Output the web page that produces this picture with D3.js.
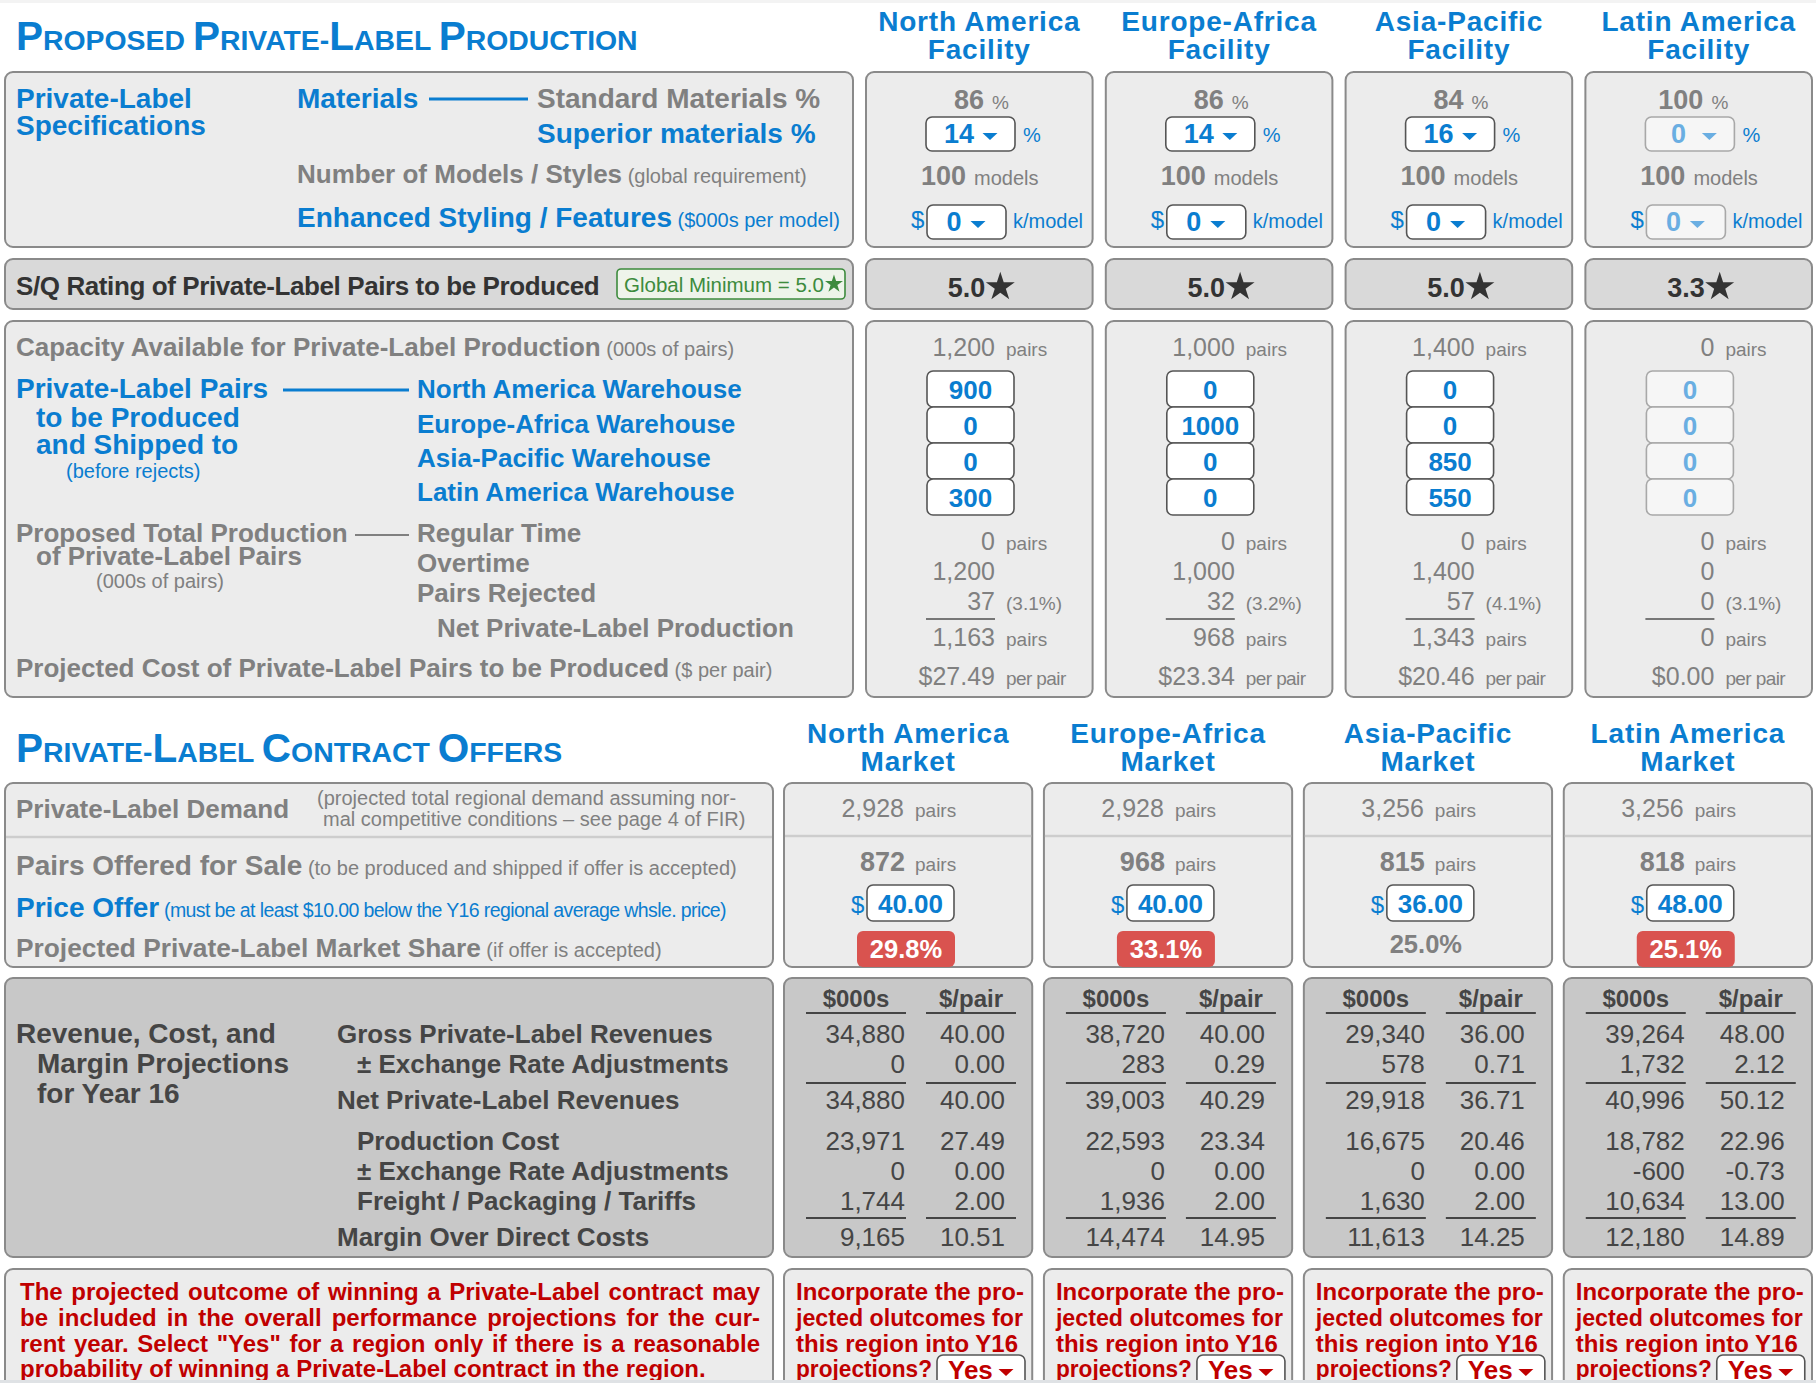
<!DOCTYPE html>
<html>
<head>
<meta charset="utf-8">
<script src="https://cdn.jsdelivr.net/npm/d3@7"></script>
<style>
  body { margin: 0; background: #fff; }
  svg { display: block; font-family: "Liberation Sans", Arial, Helvetica, sans-serif; white-space: pre; }
</style>
</head>
<body>
<div id="chart"></div>
<script>
// ---- data ----
const facilities = ["North America", "Europe-Africa", "Asia-Pacific", "Latin America"];
const facilityEnabled = [true, true, true, false];
const standardPct = [86, 86, 84, 100];
const superiorPct = [14, 14, 16, 0];
const modelCount = [100, 100, 100, 100];
const stylingK = [0, 0, 0, 0];
const sqRating = [5.0, 5.0, 5.0, 3.3];
const globalMinimum = 5.0;

const warehouses = ["North America Warehouse", "Europe-Africa Warehouse", "Asia-Pacific Warehouse", "Latin America Warehouse"];
const capacity = [1200, 1000, 1400, 0];
const toNorthAmerica = [900, 0, 0, 0];
const toEuropeAfrica = [0, 1000, 0, 0];
const toAsiaPacific = [0, 0, 850, 0];
const toLatinAmerica = [300, 0, 550, 0];
const regularTime = [0, 0, 0, 0];
const overtime = [1200, 1000, 1400, 0];
const pairsRejected = [37, 32, 57, 0];
const rejectRate = [3.1, 3.2, 4.1, 3.1];
const netProduction = [1163, 968, 1343, 0];
const costPerPair = [27.49, 23.34, 20.46, 0.0];

const markets = ["North America", "Europe-Africa", "Asia-Pacific", "Latin America"];
const demand = [2928, 2928, 3256, 3256];
const pairsOffered = [872, 968, 815, 818];
const priceOffer = [40.0, 40.0, 36.0, 48.0];
const marketShare = [29.8, 33.1, 25.0, 25.1];
const shareFlagged = [true, true, false, true];

const grossRevK = [34880, 38720, 29340, 39264];
const grossRevPair = [40.0, 40.0, 36.0, 48.0];
const fxRevK = [0, 283, 578, 1732];
const fxRevPair = [0.0, 0.29, 0.71, 2.12];
const netRevK = [34880, 39003, 29918, 40996];
const netRevPair = [40.0, 40.29, 36.71, 50.12];
const prodCostK = [23971, 22593, 16675, 18782];
const prodCostPair = [27.49, 23.34, 20.46, 22.96];
const fxCostK = [0, 0, 0, -600];
const fxCostPair = [0.0, 0.0, 0.0, -0.73];
const freightK = [1744, 1936, 1630, 10634];
const freightPair = [2.0, 2.0, 2.0, 13.0];
const marginK = [9165, 14474, 11613, 12180];
const marginPair = [10.51, 14.95, 14.25, 14.89];
const incorporate = ["Yes", "Yes", "Yes", "Yes"];

// ---- styles ----
const BLUE = "#0a7dd0", LIGHTBLUE = "#6aaee2", GRAY = "#808080", DARK = "#454545",
  RED = "#c00000", BADGE = "#d9534f", GREEN = "#3d8b3d", BORDER = "#8a8a8a";

const loc = d3.formatLocale({ decimal: ".", thousands: ",", grouping: [3], currency: ["$", ""], minus: "-" });
const fInt = loc.format(",");
const f2 = loc.format(".2f");
const f1 = loc.format(".1f");

const W = 1816, H = 1392;
const svg = d3.select("#chart").append("svg").attr("width", W).attr("height", H);

const xFac = d3.scaleBand().domain(facilities).range([866, 1812]).paddingInner(0.055);
const xMkt = d3.scaleBand().domain(markets).range([784, 1812]).paddingInner(0.045);

function label(g, x, y, parts, anchor) {
  const t = g.append("text").attr("x", x).attr("y", y).attr("text-anchor", anchor || "start");
  parts.forEach(([s, size, fill, weight]) => {
    t.append("tspan").text(s).attr("font-size", size).attr("fill", fill).attr("font-weight", weight || "bold");
  });
  return t;
}

// squeeze a text into maxW if it runs wider
function fit(t, maxW) {
  const w = t.node().getComputedTextLength();
  if (w > maxW) t.attr("textLength", maxW).attr("lengthAdjust", "spacingAndGlyphs");
  return t;
}

function smallCaps(g, x, y, s) {
  const t = g.append("text").attr("x", x).attr("y", y).attr("fill", BLUE).attr("font-weight", "bold");
  const runs = [];
  [...s].forEach((ch, i) => {
    const big = i === 0 || s[i - 1] === " " || s[i - 1] === "-";
    const last = runs[runs.length - 1];
    if (last && last.big === big) last.text += ch.toUpperCase();
    else runs.push({ text: ch.toUpperCase(), big });
  });
  runs.forEach((r) => t.append("tspan").attr("font-size", r.big ? 40.5 : 28.4).text(r.text));
}

function box(g, x, y, w, h, fill) {
  g.append("rect").attr("x", x).attr("y", y).attr("width", w).attr("height", h)
    .attr("rx", 8).attr("fill", fill || "#ececec").attr("stroke", BORDER).attr("stroke-width", 2);
}

function boxRow(scale, leftW, y, h, fill) {
  box(svg, 5, y, leftW, h, fill);
  scale.domain().forEach((d) => box(svg, scale(d), y, scale.bandwidth(), h, fill));
}

function arrow(g, cx, cy, fill) {
  const p = d3.path();
  p.moveTo(cx - 7.5, cy - 3);
  p.lineTo(cx + 7.5, cy - 3);
  p.lineTo(cx, cy + 4);
  p.closePath();
  g.append("path").attr("d", p.toString()).attr("fill", fill);
}

function field(g, x, y, w, h, on) {
  g.append("rect").attr("x", x).attr("y", y).attr("width", w).attr("height", h).attr("rx", 6)
    .attr("fill", on ? "#fff" : "#f6f6f6").attr("stroke", on ? "#555" : "#a8a8a8").attr("stroke-width", 1.6);
}

function hline(g, x0, x1, y, color, sw) {
  g.append("line").attr("x1", x0).attr("x2", x1).attr("y1", y).attr("y2", y)
    .attr("stroke", color).attr("stroke-width", sw || 2);
}

function star(g, cx, cy, size, fill) {
  g.append("path").attr("d", d3.symbol(d3.symbolStar, size)()).attr("transform", `translate(${cx},${cy})`).attr("fill", fill);
}

function header(g, cx, lines) {
  label(g, cx, 31 + lines.y, [[lines.a, 28, BLUE]], "middle").attr("letter-spacing", 0.8);
  label(g, cx, 59 + lines.y, [[lines.b, 28, BLUE]], "middle").attr("letter-spacing", 0.8);
}

// faint band at the top edge of the screenshot
svg.append("rect").attr("x", 0).attr("y", 0).attr("width", W).attr("height", 3).attr("fill", "#f3f3f3");

// ---- section 1: proposed production ----
smallCaps(svg, 16, 50, "Proposed Private-Label Production");
facilities.forEach((f) => header(svg, xFac(f) + xFac.bandwidth() / 2, { a: f, b: "Facility", y: 0 }));

boxRow(xFac, 848, 72, 175);
boxRow(xFac, 848, 259, 50, "#d9d9d9");
boxRow(xFac, 848, 321, 376);

// specifications labels
label(svg, 16, 108, [["Private-Label", 28, BLUE]]);
label(svg, 16, 135, [["Specifications", 28, BLUE]]);
label(svg, 297, 108, [["Materials", 28, BLUE]]);
hline(svg, 429, 528, 99, BLUE, 3);
label(svg, 537, 108, [["Standard Materials %", 28, GRAY]]);
label(svg, 537, 143, [["Superior materials %", 28, BLUE]]);
label(svg, 297, 183, [["Number of Models / Styles", 26, GRAY], [" (global requirement)", 20, GRAY, "normal"]]);
label(svg, 297, 227, [["Enhanced Styling / Features", 28, BLUE], [" ($000s per model)", 20, BLUE, "normal"]]);

// S/Q row
label(svg, 16, 295, [["S/Q Rating of Private-Label Pairs to be Produced", 26, "#333"]]).attr("letter-spacing", -0.4);
svg.append("rect").attr("x", 617).attr("y", 269).attr("width", 228).attr("height", 30).attr("rx", 4)
  .attr("fill", "#eef4ea").attr("stroke", GREEN).attr("stroke-width", 1.6);
const gm = label(svg, 624, 292, [["Global Minimum = " + f1(globalMinimum), 20.5, GREEN, "normal"]]);
star(svg, 624 + gm.node().getComputedTextLength() + 10, 284, 100, GREEN);

// capacity labels
label(svg, 16, 356, [["Capacity Available for Private-Label Production", 26, GRAY], [" (000s of pairs)", 20, GRAY, "normal"]]);
label(svg, 16, 398, [["Private-Label Pairs", 28, BLUE]]);
hline(svg, 283, 409, 390, BLUE, 3);
label(svg, 36, 427, [["to be Produced", 28, BLUE]]);
label(svg, 36, 454, [["and Shipped to", 28, BLUE]]);
label(svg, 66, 478, [["(before rejects)", 20, BLUE, "normal"]]);
const whY = [398, 433, 467, 501];
warehouses.forEach((w, i) => label(svg, 417, whY[i], [[w, 26, BLUE]]));
label(svg, 16, 542, [["Proposed Total Production", 26, GRAY]]);
hline(svg, 355, 409, 535, GRAY, 2);
label(svg, 36, 565, [["of Private-Label Pairs", 26, GRAY]]);
label(svg, 96, 588, [["(000s of pairs)", 20, GRAY, "normal"]]);
label(svg, 417, 542, [["Regular Time", 26, GRAY]]);
label(svg, 417, 572, [["Overtime", 26, GRAY]]);
label(svg, 417, 602, [["Pairs Rejected", 26, GRAY]]);
label(svg, 437, 637, [["Net Private-Label Production", 26, GRAY]]);
label(svg, 16, 677, [["Projected Cost of Private-Label Pairs to be Produced", 26, GRAY], [" ($ per pair)", 20, GRAY, "normal"]]);

// facility columns
const shipments = [toNorthAmerica, toEuropeAfrica, toAsiaPacific, toLatinAmerica];
facilities.forEach((f, i) => {
  const x0 = xFac(f);
  const cx = x0 + xFac.bandwidth() / 2;
  const on = facilityEnabled[i];
  const valC = on ? BLUE : LIGHTBLUE;
  const g = svg.append("g");

  label(g, x0 + 118, 109, [[String(standardPct[i]), 27, GRAY]], "end");
  label(g, x0 + 126, 109, [["%", 19, GRAY, "normal"]]);
  field(g, x0 + 60, 117, 89, 34, on);
  label(g, x0 + 93, 143, [[String(superiorPct[i]), 27, valC]], "middle");
  arrow(g, x0 + 124, 136, valC);
  label(g, x0 + 157, 142, [["%", 20, BLUE, "normal"]]);

  label(g, x0 + 100, 185, [[String(modelCount[i]), 27, GRAY]], "end");
  label(g, x0 + 108, 185, [["models", 20, GRAY, "normal"]]);

  label(g, x0 + 45, 228, [["$", 24, BLUE, "normal"]]);
  field(g, x0 + 61, 205, 79, 34, on);
  label(g, x0 + 88, 231, [[String(stylingK[i]), 27, valC]], "middle");
  arrow(g, x0 + 112, 224, valC);
  label(g, x0 + 147, 228, [["k/model", 20, BLUE, "normal"]]);

  // S/Q rating
  label(g, cx + 6, 297, [[f1(sqRating[i]), 27, "#333"]], "end");
  star(g, cx + 21, 287, 260, "#333");

  // capacity
  label(g, x0 + 129, 356, [[fInt(capacity[i]), 25, GRAY, "normal"]], "end");
  label(g, x0 + 140, 356, [["pairs", 19, GRAY, "normal"]]);
  shipments.forEach((arr, j) => {
    const y = 371 + j * 36;
    field(g, x0 + 61, y, 87, 36, on);
    label(g, x0 + 104.5, y + 28, [[String(arr[i]), 26, valC]], "middle");
  });

  label(g, x0 + 129, 550, [[fInt(regularTime[i]), 25, GRAY, "normal"]], "end");
  label(g, x0 + 140, 550, [["pairs", 19, GRAY, "normal"]]);
  label(g, x0 + 129, 580, [[fInt(overtime[i]), 25, GRAY, "normal"]], "end");
  label(g, x0 + 129, 610, [[fInt(pairsRejected[i]), 25, GRAY, "normal"]], "end");
  label(g, x0 + 140, 610, [["(" + f1(rejectRate[i]) + "%)", 19, GRAY, "normal"]]);
  hline(g, x0 + 60, x0 + 129, 619, "#777", 2);
  label(g, x0 + 129, 646, [[fInt(netProduction[i]), 25, GRAY, "normal"]], "end");
  label(g, x0 + 140, 646, [["pairs", 19, GRAY, "normal"]]);
  label(g, x0 + 129, 685, [["$" + f2(costPerPair[i]), 25, GRAY, "normal"]], "end");
  label(g, x0 + 140, 685, [["per pair", 19, GRAY, "normal"]]).attr("letter-spacing", -0.6);
});

// ---- section 2: contract offers ----
smallCaps(svg, 16, 762, "Private-Label Contract Offers");
markets.forEach((m) => header(svg, xMkt(m) + xMkt.bandwidth() / 2, { a: m, b: "Market", y: 712 }));

boxRow(xMkt, 768, 783, 184);
hline(svg, 6, 772, 837, "#cdcdcd", 2.5);
label(svg, 16, 818, [["Private-Label Demand", 26, GRAY]]);
label(svg, 317, 805, [["(projected total regional demand assuming nor-", 20, GRAY, "normal"]]);
label(svg, 323, 826, [["mal competitive conditions \u2013 see page 4 of FIR)", 20, GRAY, "normal"]]);
label(svg, 16, 875, [["Pairs Offered for Sale", 28, GRAY], [" (to be produced and shipped if offer is accepted)", 20, GRAY, "normal"]]);
label(svg, 16, 917, [["Price Offer", 28, BLUE], [" (must be at least $10.00 below the Y16 regional average whsle. price)", 19.5, BLUE, "normal"]])
  .select("tspan:last-child").attr("letter-spacing", -0.6);
label(svg, 16, 957, [["Projected Private-Label Market Share", 26.3, GRAY], [" (if offer is accepted)", 20, GRAY, "normal"]]);

markets.forEach((m, i) => {
  const x0 = xMkt(m);
  const bw = xMkt.bandwidth();
  const g = svg.append("g");
  hline(g, x0 + 1, x0 + bw - 1, 836, "#cdcdcd", 2.5);
  label(g, x0 + 120, 817, [[fInt(demand[i]), 25, GRAY, "normal"]], "end");
  label(g, x0 + 131, 817, [["pairs", 19, GRAY, "normal"]]);
  label(g, x0 + 121, 871, [[fInt(pairsOffered[i]), 27, GRAY]], "end");
  label(g, x0 + 131, 871, [["pairs", 19, GRAY, "normal"]]);
  label(g, x0 + 67, 913, [["$", 24, BLUE, "normal"]]);
  field(g, x0 + 83, 885, 87, 36, true);
  label(g, x0 + 126.5, 913, [[f2(priceOffer[i]), 26, BLUE]], "middle");
  if (shareFlagged[i]) {
    g.append("rect").attr("x", x0 + 73).attr("y", 931).attr("width", 98).attr("height", 36).attr("rx", 6).attr("fill", BADGE);
    label(g, x0 + 122, 958, [[f1(marketShare[i]) + "%", 25.5, "#fff"]], "middle");
  } else {
    label(g, x0 + 122, 953, [[f1(marketShare[i]) + "%", 25.5, GRAY]], "middle");
  }
});

// ---- revenue / cost / margin ----
boxRow(xMkt, 768, 978, 279, "#c8c8c8");
const revY = [1043, 1073, 1109, 1150, 1180, 1210, 1246];
const revLabels = [
  ["Gross Private-Label Revenues", 337],
  ["\u00b1 Exchange Rate Adjustments", 357],
  ["Net Private-Label Revenues", 337],
  ["Production Cost", 357],
  ["\u00b1 Exchange Rate Adjustments", 357],
  ["Freight / Packaging / Tariffs", 357],
  ["Margin Over Direct Costs", 337],
];
label(svg, 16, 1043, [["Revenue, Cost, and", 28, DARK]]);
label(svg, 37, 1073, [["Margin Projections", 28, DARK]]);
label(svg, 37, 1103, [["for Year 16", 28, DARK]]);
revLabels.forEach(([s, x], i) => label(svg, x, revY[i], [[s, 26, DARK]]));

const revRows = [
  [grossRevK, grossRevPair], [fxRevK, fxRevPair], [netRevK, netRevPair],
  [prodCostK, prodCostPair], [fxCostK, fxCostPair], [freightK, freightPair], [marginK, marginPair],
];
markets.forEach((m, i) => {
  const x0 = xMkt(m);
  const g = svg.append("g");
  label(g, x0 + 72, 1007, [["$000s", 24, DARK]], "middle");
  label(g, x0 + 187, 1007, [["$/pair", 24, DARK]], "middle");
  [1013, 1083, 1218].forEach((y) => {
    hline(g, x0 + 22, x0 + 122, y, DARK, 2.2);
    hline(g, x0 + 142, x0 + 232, y, DARK, 2.2);
  });
  revRows.forEach(([k, p], r) => {
    label(g, x0 + 121, revY[r], [[fInt(k[i]), 26, DARK, "normal"]], "end");
    label(g, x0 + 221, revY[r], [[f2(p[i]), 26, DARK, "normal"]], "end");
  });
});

// ---- incorporate outcomes ----
boxRow(xMkt, 768, 1269, 150);
const noteLines = [
  "The projected outcome of winning a Private-Label contract may",
  "be included in the overall performance projections for the cur-",
  "rent year. Select \"Yes\" for a region only if there is a reasonable",
  "probability of winning a Private-Label contract in the region.",
];
const noteY = [1300, 1326, 1352, 1377];
const note = svg.append("g").attr("font-size", 24).attr("font-weight", "bold").attr("fill", RED);
noteLines.forEach((line, li) => {
  const words = line.split(" ");
  const nodes = words.map((w) => note.append("text").attr("y", noteY[li]).text(w));
  const widths = nodes.map((n) => n.node().getComputedTextLength());
  const last = li === noteLines.length - 1;
  const gap = last ? 6.7 : (760 - 20 - d3.sum(widths)) / (words.length - 1);
  let x = 20;
  nodes.forEach((n, k) => { n.attr("x", x); x += widths[k] + gap; });
});

const askLines = ["Incorporate the pro-", "jected olutcomes for", "this region into Y16", "projections?"];
const askMax = [231, 227, 222, 136];
markets.forEach((m, i) => {
  const x0 = xMkt(m);
  const g = svg.append("g").attr("font-size", 24).attr("font-weight", "bold").attr("fill", RED);
  askLines.forEach((s, k) => fit(g.append("text").attr("x", x0 + 12).attr("y", noteY[k]).text(s), askMax[k]));
  field(g, x0 + 153, 1355, 88, 40, true);
  g.append("text").attr("x", x0 + 164).attr("y", 1379).attr("font-size", 26).text(incorporate[i]);
  arrow(g, x0 + 222, 1372, RED);
});

// page cut-off at the bottom of the screenshot
svg.append("rect").attr("x", 0).attr("y", 1380).attr("width", W).attr("height", H - 1380).attr("fill", "#fff");
svg.append("rect").attr("x", 0).attr("y", 1380).attr("width", W).attr("height", 3).attr("fill", "#dfe2e5");
</script>
</body>
</html>
